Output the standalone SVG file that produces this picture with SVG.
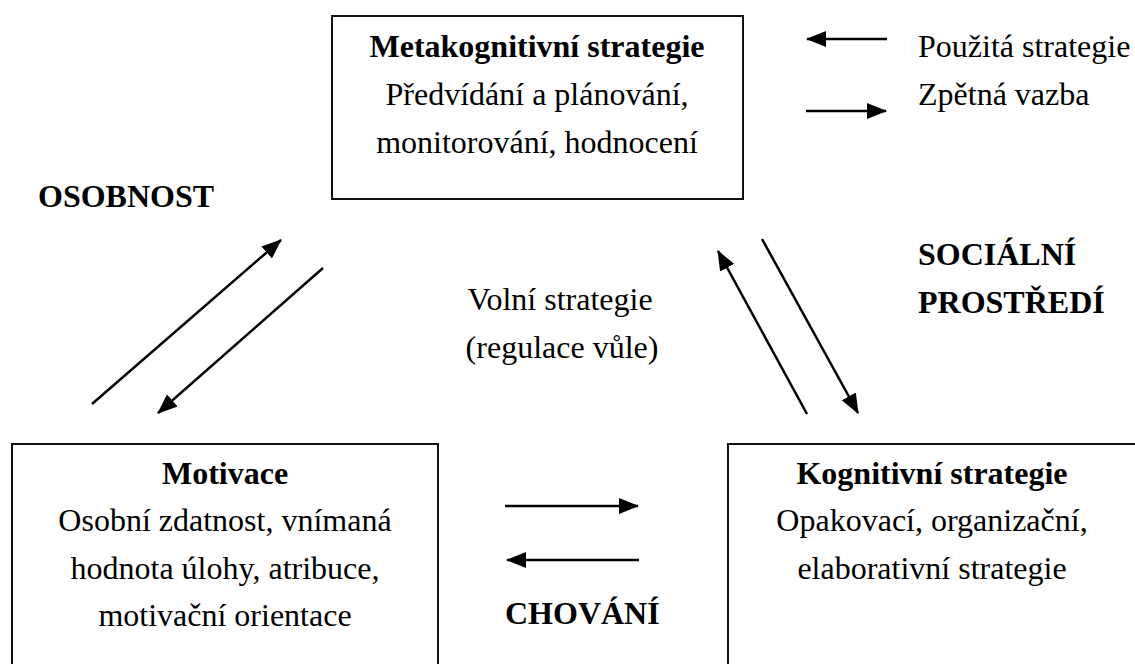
<svg xmlns="http://www.w3.org/2000/svg" width="1135" height="664" viewBox="0 0 1135 664">
<style>
text{font-family:"Liberation Serif","Times New Roman",serif;font-size:32px;fill:#000}
.b{font-weight:bold}
.m{text-anchor:middle}
.box{fill:none;stroke:#111;stroke-width:2}
.ar{stroke:#000;stroke-width:2.5;fill:none;marker-end:url(#ah)}
</style>
<defs>
<marker id="ah" markerUnits="userSpaceOnUse" markerWidth="20" markerHeight="16" refX="19" refY="8" orient="auto" viewBox="0 0 20 16">
<path d="M0,0 L20,8 L0,16 z" fill="#000"/>
</marker>
</defs>
<rect width="1135" height="664" fill="#fff"/>
<g id="meta">
<rect class="box" x="332" y="16" width="411" height="183"/>
<text class="b m" x="537" y="57">Metakognitivní strategie</text>
<text class="m" x="537" y="105">Předvídání a plánování,</text>
<text class="m" x="537" y="153">monitorování, hodnocení</text>
</g>
<g id="motivace">
<rect class="box" x="12" y="444" width="426" height="240"/>
<text class="b m" x="225" y="484">Motivace</text>
<text class="m" x="225" y="531">Osobní zdatnost, vnímaná</text>
<text class="m" x="225" y="579">hodnota úlohy, atribuce,</text>
<text class="m" x="225" y="626">motivační orientace</text>
</g>
<g id="kognitivni">
<rect class="box" x="728" y="444" width="420" height="240"/>
<text class="b m" x="932" y="484">Kognitivní strategie</text>
<text class="m" x="932" y="531">Opakovací, organizační,</text>
<text class="m" x="932" y="579">elaborativní strategie</text>
</g>
<g id="legend">
<line class="ar" x1="887" y1="39" x2="807" y2="39"/>
<line class="ar" x1="806" y1="111" x2="886" y2="111"/>
<text x="918" y="57">Použitá strategie</text>
<text x="918" y="105">Zpětná vazba</text>
</g>
<g id="labels">
<text class="b" x="38" y="207">OSOBNOST</text>
<text class="b" x="918" y="265">SOCIÁLNÍ</text>
<text class="b" x="918" y="313">PROSTŘEDÍ</text>
<text class="m" x="560" y="310">Volní strategie</text>
<text class="m" x="562" y="358">(regulace vůle)</text>
<text class="b" x="505" y="624">CHOVÁNÍ</text>
</g>
<g id="connectors">
<line class="ar" x1="92" y1="404" x2="281" y2="240"/>
<line class="ar" x1="323" y1="268" x2="158" y2="413"/>
<line class="ar" x1="807" y1="414" x2="718" y2="251"/>
<line class="ar" x1="762" y1="239" x2="858" y2="413"/>
<line class="ar" x1="505" y1="506" x2="638" y2="506"/>
<line class="ar" x1="639" y1="560" x2="507" y2="560"/>
</g>
</svg>
